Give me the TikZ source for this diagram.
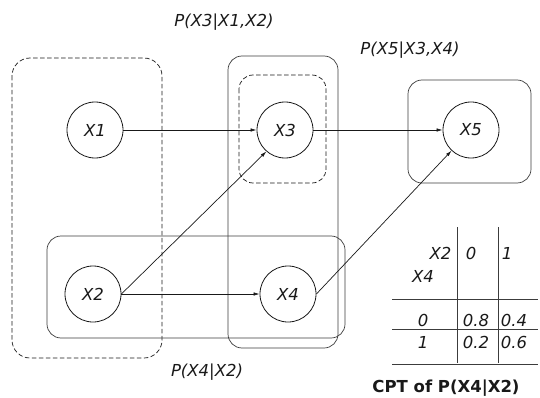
\documentclass[tikz,border=0pt]{standalone}
\usepackage{fontspec}
\setmainfont{DejaVu Sans}
\usetikzlibrary{arrows.meta}
\definecolor{LineGray}{RGB}{25,25,25}
\definecolor{BoxGray}{RGB}{60,60,60}

\begin{document}
\begin{tikzpicture}[
  x=1pt, y=-1pt,
  every node/.style={font=\fontsize{16.5}{19}\selectfont\itshape, text=LineGray},
  var/.style={draw=LineGray, circle, minimum size=56pt, inner sep=0pt, line width=0.8pt},
  group/.style={draw=BoxGray, rounded corners=14pt, line width=0.7pt},
  dgroup/.style={group, draw=LineGray, dash pattern=on 4.5pt off 2.5pt},
  arrow/.style={-{Latex[length=6pt,width=3.5pt]}, draw=LineGray, line width=0.7pt},
  tabline/.style={draw=BoxGray, line width=0.8pt}
]
\useasboundingbox (0,0) rectangle (540,398);

% groups of variables
\draw[dgroup, rounded corners=18pt] (12,58) rectangle (162,358);
\draw[group] (228,56) rectangle (338,348);
\draw[dgroup] (239,75) rectangle (326,183);
\draw[group] (408,80) rectangle (531,183);
\draw[group] (47,236) rectangle (345,338);

\node[var] (X1) at (95,130) {X1};
\node[var] (X2) at (93,294) {X2};
\node[var] (X3) at (285,130) {X3};
\node[var] (X4) at (288,294) {X4};
\node[var] (X5) at (471,130) {X5};

\node (p3) at (224,22) {P(X3|X1,X2)};
\node (p5) at (410,50) {P(X5|X3,X4)};
\node (p4) at (207,372) {P(X4|X2)};

\draw[arrow] (X1) -- (X3);
\draw[arrow] (X2.east) -- (X3.229);
\draw[arrow] (X2) -- (X4);
\draw[arrow] (X3) -- (X5);
\draw[arrow] (X4.east) -- (X5);

% CPT table
\draw[tabline] (457,227) -- (457,363);
\draw[tabline] (498,227) -- (498,363);
\draw[tabline] (392,299) -- (538,299);
\draw[tabline] (392,329) -- (538,329);
\draw[tabline] (392,364) -- (538,364);

\node[anchor=east] (hX2) at (455,253) {X2};
\node (hX4) at (423,276) {X4};
\node (c0) at (471,253) {0};
\node (c1) at (507,253) {1};
\node (r0) at (423,320) {0};
\node (v00) at (476,320) {0.8};
\node (v01) at (514,320) {0.4};
\node (r1) at (423,342) {1};
\node (v10) at (476,342) {0.2};
\node (v11) at (514,342) {0.6};

\node[font=\fontsize{16.5}{19}\selectfont\bfseries] (cpt) at (446,388) {CPT of P(X4|X2)};
\end{tikzpicture}
\end{document}
